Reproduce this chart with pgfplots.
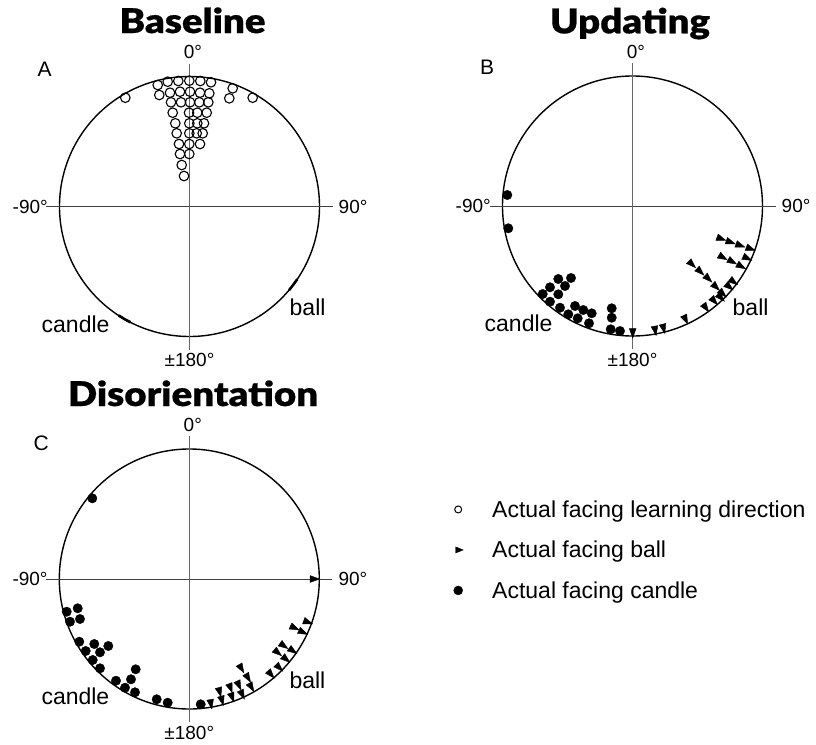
\documentclass[border=0pt]{standalone}
\usepackage{pgfplots}
\pgfplotsset{compat=1.18}
\usepackage{fontspec}
\setmainfont{Liberation Sans}
\IfFontExistsTF{Lato Black}{\newfontfamily\titlefont{Lato Black}[FakeStretch=1.13, FakeBold=0.6]}{%
  \newfontfamily\titlefont{Liberation Sans Bold}[FakeBold=1]}
\newcommand\degfont{\fontsize{19}{19}\selectfont}
\newcommand\labfont{\fontsize{23}{23}\selectfont}
\newcommand\panfont{\fontsize{21}{21}\selectfont}
\newcommand\ttlfont{\titlefont\fontsize{34}{34}\selectfont}

\pgfplotsset{
  panel/.style={x=1pt, y=1pt, xmin=-150, xmax=150, ymin=-150, ymax=150,
    hide axis, clip=false, anchor=center},
  openpt/.style={only marks, mark=o, mark size=4.8pt, line width=1.1pt, black},
  dotpt/.style={only marks, mark=*, mark size=4.7pt, black},
  % narrow triangles pointing outward, rotation per point taken from column r
  tript/.style={scatter, only marks, mark=triangle*, mark size=6.3pt,
    scatter/use mapped color={draw=black, fill=black},
    visualization depends on={value \thisrow{r}\as\rot},
    scatter/@pre marker code/.append style={/tikz/rotate=\rot, /tikz/xscale=0.62}},
}
% circle, cross lines and direction labels of one panel
\newcommand\dial[4]{%
  \draw[line width=1.4pt] (axis cs:0,0) circle[radius=130];
  \draw[black!75, line width=0.8pt] (axis cs:-143,0) -- (axis cs:143,0);
  \draw[black!60, line width=0.8pt] (axis cs:0,-143) -- (axis cs:0,143);
  \node[anchor=base, inner sep=0pt, font=\degfont] at (axis cs:3.5,148) {0°};
  \node[anchor=east, inner sep=0pt, font=\degfont] at (axis cs:-141.5,0) {-90°};
  \node[anchor=west, inner sep=0pt, font=\degfont] at (axis cs:149,0) {90°};
  \node[anchor=base, inner sep=0pt, font=\degfont] at (axis cs:0,-160) {±180°};
  \node[anchor=base west, inner sep=0pt, font=\labfont] at (axis cs:-148,-125.5) {candle};
  \node[anchor=base west, inner sep=0pt, font=\labfont] at (axis cs:100,-109) {ball};
  \node[anchor=base west, inner sep=0pt, font=\panfont] at (axis cs:#2) {#1};
  \node[anchor=base, inner sep=0pt, font=\ttlfont] at (axis cs:#4) {#3};
}

\begin{document}
\begin{tikzpicture}
\useasboundingbox (0,0) rectangle (816pt,-744pt);

% ---------- A: Baseline ----------
\begin{axis}[panel, at={(189.5pt,-206.5pt)}]
\dial{A}{-152,130.5}{Baseline}{3,173.5}
\addplot[black, line width=2.6pt] coordinates {(107.8,-72.7) (103.8,-78.2) (99.6,-83.6)};
\addplot[black, line width=2.6pt] coordinates {(-70.8,-109.0) (-65.0,-112.6) (-59.0,-115.8)};
\addplot[openpt] table {
x y
-31.8 121.5
-21.8 124.8
-11.2 125.5
-0.2 125.8
10.8 125.5
21.5 124.2
43.2 118.2
39.8 108.2
63.2 108.8
-64.2 108.8
-30.2 111.5
-19.5 113.8
-9.5 114.8
0.5 114.8
10.5 113.8
19.8 113.2
-18.5 104.2
-8.5 104.2
0.5 104.2
9.8 104.2
18.8 104.2
-16.8 93.8
-0.5 93.8
7.8 93.8
17.2 93.8
-14.2 83.2
-0.2 83.2
7.8 83.2
14.5 83.2
-12.8 73.2
-0.2 73.2
7.2 73.2
13.2 73.2
-10.5 62.5
-0.2 62.5
10.5 62.5
-9.5 52.5
-0.2 52.5
-7.8 41.5
-5.5 30.5
};
\end{axis}

% ---------- B: Updating ----------
\begin{axis}[panel, at={(632.5pt,-206pt)}]
\dial{B}{-152.5,132}{Updating}{-2.5,172.7}
\addplot[dotpt] table {
x y
-125.2 11.0
-124.2 -22.3
-74.2 -73.0
-61.5 -72.0
-82.5 -81.3
-67.5 -80.0
-89.8 -88.0
-74.2 -88.3
-82.5 -95.7
-72.5 -101.7
-57.5 -100.0
-49.2 -104.0
-40.8 -107.3
-64.2 -108.3
-54.8 -112.3
-43.5 -117.3
-20.8 -102.3
-20.8 -111.7
-21.8 -123.3
-12.5 -125.0
};
\addplot[tript] table {
x y r
87.5 -32.3 -110
96.8 -35.7 -110
106.5 -39.0 -110
116.8 -42.3 -110
89.2 -50.7 -120
98.5 -55.0 -119
107.5 -59.7 -119
113.5 -51.7 -115
58.5 -57.3 -134
66.8 -64.7 -134
74.8 -71.7 -134
82.5 -80.0 -134
89.2 -86.7 -134
95.8 -80.0 -130
100.0 -75.0 -127
87.5 -90.7 -136
80.8 -94.0 -139
72.5 -100.7 -144
52.5 -112.3 -155
30.8 -121.3 -166
22.5 -123.3 -170
0.2 -125.7 -180
};
\end{axis}

% ---------- C: Disorientation ----------
\begin{axis}[panel, at={(189.3pt,-579pt)},
  legend style={at={(axis cs:261.7,78.75)}, anchor=north west, draw=none,
    fill=none, inner sep=0pt, row sep=18.5pt, column sep=27pt, font=\labfont,
    nodes={inner sep=0pt, text height=17pt, text depth=5pt}},
  legend cell align=left,
  legend image code/.code={\draw[#1] plot coordinates {(0pt,2pt)};
    \path[draw=none, fill=none] (-7pt,-11pt) rectangle (7pt,11pt);}]
\dial{C}{-156,129}{Disorientation}{3.7,173}
\addplot[dotpt, forget plot] table {
x y
-97.0 80.7
-122.6 -32.7
-111.6 -29.3
-119.3 -42.7
-109.3 -40.0
-110.0 -62.7
-95.0 -65.0
-81.0 -67.0
-103.6 -72.0
-89.3 -73.3
-96.6 -81.0
-89.3 -89.3
-53.6 -90.3
-73.3 -101.7
-58.3 -100.3
-64.3 -108.7
-54.3 -113.3
-32.6 -120.3
-21.6 -123.7
11.4 -125.3
};
\addplot[tript, forget plot] table {
x y r
124.0 0.0 -90
104.0 -48.3 -115
117.4 -42.7 -110
112.4 -52.7 -115
93.4 -66.0 -125
87.4 -72.7 -130
102.4 -71.0 -125
95.7 -79.3 -130
89.0 -87.7 -135
80.7 -94.3 -139
51.4 -88.3 -150
58.0 -97.7 -149
61.4 -107.0 -150
49.0 -105.0 -155
40.7 -107.7 -159
30.0 -111.7 -165
52.4 -114.3 -155
42.4 -117.0 -160
32.4 -120.3 -165
21.4 -123.7 -170
};
\addlegendimage{only marks, mark=o, mark size=3.5pt, line width=1pt, black}
\addlegendentry{Actual facing learning direction}
\addlegendimage{only marks, mark=triangle*, mark size=5pt, black, mark options={rotate=-90, xscale=0.7}}
\addlegendentry{Actual facing ball}
\addlegendimage{only marks, mark=*, mark size=4.5pt, black}
\addlegendentry{Actual facing candle}
\end{axis}
\end{tikzpicture}
\end{document}
